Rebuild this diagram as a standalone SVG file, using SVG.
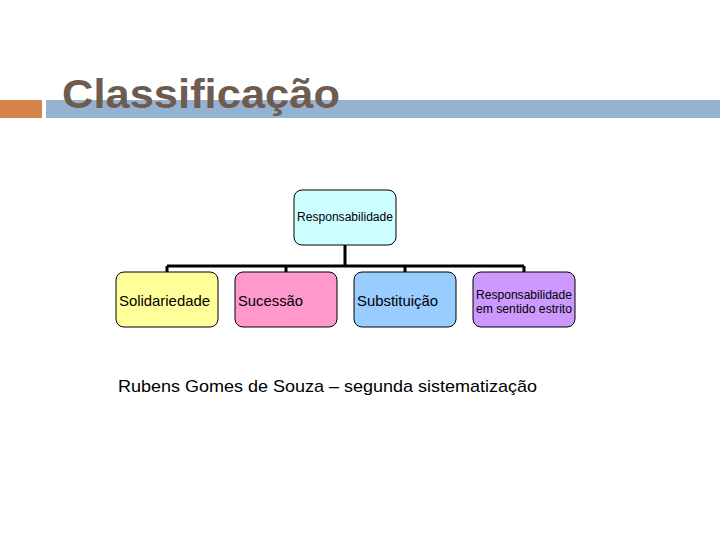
<svg xmlns="http://www.w3.org/2000/svg" width="720" height="540" viewBox="0 0 720 540">
<style>
.n{stroke:#000;stroke-width:1}
.t{font-family:"Liberation Sans",Arial,sans-serif;fill:#000}
.c{stroke:#000;stroke-width:3;fill:none}
</style>
<rect width="720" height="540" fill="#fff"/>
<g id="header">
<rect x="0" y="100" width="42" height="18" fill="#d9834c"/>
<rect x="46" y="100" width="674" height="18" fill="#95b3d0"/>
<text x="62" y="108" font-family="Liberation Sans,Arial,sans-serif" font-weight="bold" font-size="40" fill="#6e5c51" textLength="278" lengthAdjust="spacingAndGlyphs">Classificação</text>
</g>
<g id="connectors">
<path class="c" d="M345 245V266M167 266H524M167 266V272M286 266V272M405 266V272M524 266V272"/>
</g>
<g id="root"><rect class="n" x="294" y="190" width="102" height="55" rx="8" fill="#ccffff"/><text class="t" x="297" y="221" font-size="12" textLength="96" lengthAdjust="spacingAndGlyphs">Responsabilidade</text></g>
<g id="n1"><rect class="n" x="116" y="272" width="102" height="55" rx="8" fill="#ffff99"/><text class="t" x="119" y="306" font-size="15" textLength="91" lengthAdjust="spacingAndGlyphs">Solidariedade</text></g>
<g id="n2"><rect class="n" x="235" y="272" width="102" height="55" rx="8" fill="#ff99cc"/><text class="t" x="238" y="306" font-size="15" textLength="65" lengthAdjust="spacingAndGlyphs">Sucessão</text></g>
<g id="n3"><rect class="n" x="354" y="272" width="102" height="55" rx="8" fill="#99ccff"/><text class="t" x="357" y="306" font-size="15" textLength="81" lengthAdjust="spacingAndGlyphs">Substituição</text></g>
<g id="n4"><rect class="n" x="473" y="272" width="102" height="55" rx="8" fill="#cc99ff"/><text class="t" x="476" y="299" font-size="12" textLength="96" lengthAdjust="spacingAndGlyphs">Responsabilidade</text><text class="t" x="476" y="313" font-size="12" textLength="96" lengthAdjust="spacingAndGlyphs">em sentido estrito</text></g>
<text class="t" x="118" y="392" font-size="17" textLength="419" lengthAdjust="spacingAndGlyphs">Rubens Gomes de Souza – segunda sistematização</text>
</svg>
